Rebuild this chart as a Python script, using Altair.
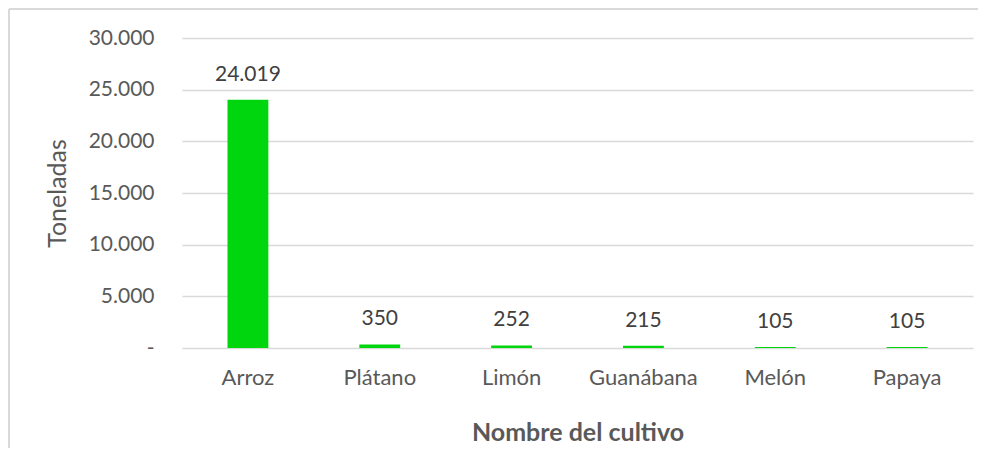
import altair as alt
import pandas as pd

cultivos = ["Arroz", "Plátano", "Limón", "Guanábana", "Melón", "Papaya"]
toneladas = [24019, 350, 252, 215, 105, 105]
y_ticks = [0, 5000, 10000, 15000, 20000, 25000, 30000]

df = pd.DataFrame({"cultivo": cultivos, "toneladas": toneladas})

FONT = "Lato"
TXT = "#404040"
AX = "#595959"
GREEN = "#00D60E"

x_enc = alt.X(
    "cultivo:N",
    sort=cultivos,
    scale=alt.Scale(paddingInner=0, paddingOuter=0),
    axis=alt.Axis(
        title="Nombre del cultivo",
        labelAngle=0,
        labelFontSize=22,
        labelColor=AX,
        labelFont=FONT,
        labelPadding=19,
        ticks=False,
        domain=False,
        titleFontSize=25,
        titleFontWeight="bold",
        titleColor=AX,
        titleFont=FONT,
        titlePadding=32,
    ),
)

y_enc = alt.Y(
    "toneladas:Q",
    scale=alt.Scale(domain=[0, 30000], nice=False),
    axis=alt.Axis(
        title="Toneladas",
        values=y_ticks,
        labelExpr="datum.value == 0 ? '-' : replace(format(datum.value, ',d'), ',', '.')",
        labelFontSize=21,
        labelColor=AX,
        labelFont=FONT,
        labelPadding=28,
        ticks=False,
        domain=False,
        grid=True,
        gridColor="#d9d9d9",
        gridWidth=1.5,
        titleFontSize=25,
        titleFontWeight="normal",
        titleColor=AX,
        titleFont=FONT,
        titlePadding=18,
    ),
)

base = alt.Chart(df).encode(x=x_enc, y=y_enc)

bars = base.mark_bar(color=GREEN, width=alt.RelativeBandSize(0.31))

labels = base.transform_calculate(
    lbl="replace(format(datum.toneladas, ',d'), ',', '.')"
).mark_text(
    baseline="middle", dy=-25, fontSize=21, font=FONT, color=TXT
).encode(text="lbl:N")

frame_v = alt.Chart(df).mark_rule(color="#d9d9d9", strokeWidth=2, clip=False).encode(
    x=alt.value(-173), y=alt.value(-29), y2=alt.value(430)
)
frame_h = alt.Chart(df).mark_rule(color="#d9d9d9", strokeWidth=1.5, clip=False).encode(
    x=alt.value(-173), x2=alt.value(796), y=alt.value(-29)
)

chart = alt.layer(frame_v, frame_h, bars, labels).properties(
    width=791,
    height=310,
    autosize="none",
    padding={"left": 174, "top": 30, "right": 5, "bottom": 100},
).configure(background="white").configure_view(strokeWidth=0, stroke="transparent")

chart.save("out.html", embed_options={"renderer": "svg", "actions": False})
